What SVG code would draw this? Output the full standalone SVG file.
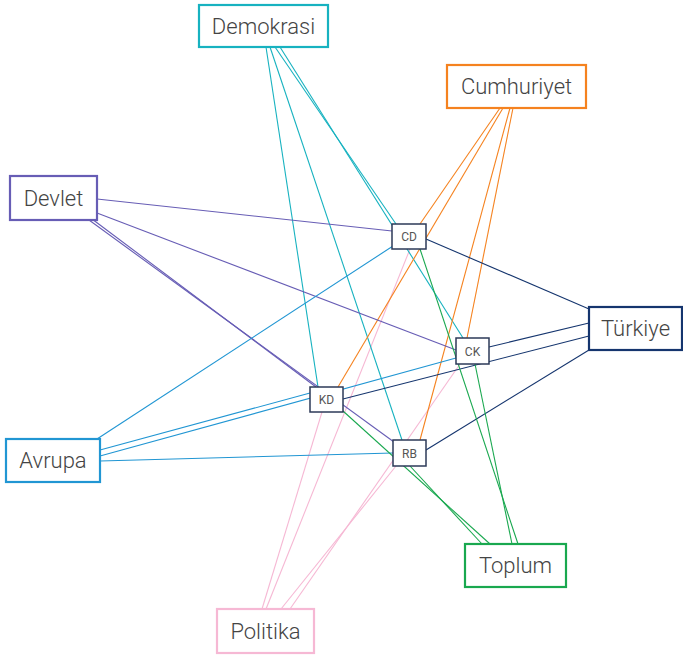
<svg xmlns="http://www.w3.org/2000/svg" width="683" height="657" viewBox="0 0 683 657">
<style>
.e{fill:none;stroke-width:1.1}
.big rect{fill:#fff;stroke-width:2.2}
.big text{font-family:Roboto,"Liberation Sans",sans-serif;font-weight:300;font-size:22px;fill:#444;text-anchor:middle;dominant-baseline:central}
.sm rect{fill:#fff;stroke:#2c3a58;stroke-width:1.5}
.sm text{font-family:Roboto,"Liberation Sans",sans-serif;font-size:12px;fill:#555;text-anchor:middle;dominant-baseline:central}
.dem{stroke:#17b2c0}.cum{stroke:#f5821f}.dev{stroke:#675db5}.tur{stroke:#15356e}.avr{stroke:#2196d3}.top{stroke:#19a84f}.pol{stroke:#f6b8d4}
</style>
<rect width="683" height="657" fill="#fff"/>
<g id="connectors">
<line class="e pol" x1="262" y1="609" x2="322" y2="412"/>
<line class="e pol" x1="266" y1="609" x2="410" y2="249"/>
<line class="e pol" x1="281" y1="609" x2="396" y2="466"/>
<line class="e pol" x1="290" y1="609" x2="460" y2="364"/>
<line class="e dem" x1="266" y1="47" x2="318" y2="387"/>
<line class="e dem" x1="270" y1="47" x2="402" y2="440"/>
<line class="e dem" x1="275" y1="47" x2="396" y2="224"/>
<line class="e dem" x1="280" y1="47" x2="463" y2="338"/>
<line class="e cum" x1="500" y1="108" x2="420" y2="224"/>
<line class="e cum" x1="503" y1="108" x2="338" y2="387"/>
<line class="e cum" x1="510" y1="108" x2="420" y2="440"/>
<line class="e cum" x1="513" y1="108" x2="467" y2="338"/>
<line class="e dev" x1="97" y1="199" x2="392" y2="231"/>
<line class="e dev" x1="97" y1="213" x2="456" y2="350"/>
<line class="e dev" x1="92" y1="219" x2="316" y2="387"/>
<line class="e dev" x1="89" y1="220" x2="394" y2="442"/>
<line class="e avr" x1="97" y1="439" x2="393" y2="246"/>
<line class="e avr" x1="100" y1="450" x2="310" y2="393"/>
<line class="e avr" x1="100" y1="456" x2="456" y2="358"/>
<line class="e avr" x1="100" y1="461" x2="393" y2="453"/>
<line class="e tur" x1="589" y1="309" x2="426" y2="239"/>
<line class="e tur" x1="589" y1="323" x2="489" y2="347"/>
<line class="e tur" x1="589" y1="336" x2="343" y2="399"/>
<line class="e tur" x1="589" y1="350" x2="426" y2="450"/>
<line class="e top" x1="518" y1="544" x2="420" y2="249"/>
<line class="e top" x1="512" y1="544" x2="475" y2="364"/>
<line class="e top" x1="490" y1="544" x2="343" y2="411"/>
<line class="e top" x1="482" y1="544" x2="410" y2="466"/>
</g>
<g id="n-demokrasi" class="big"><rect class="dem" x="199" y="5" width="129" height="42"/><text x="263.5" y="26">Demokrasi</text></g>
<g id="n-cumhuriyet" class="big"><rect class="cum" x="447" y="65" width="139" height="43"/><text x="516.5" y="86.5">Cumhuriyet</text></g>
<g id="n-devlet" class="big"><rect class="dev" x="10" y="176" width="87" height="44"/><text x="53.5" y="198">Devlet</text></g>
<g id="n-turkiye" class="big"><rect class="tur" x="589" y="307" width="93" height="43"/><text x="635.5" y="328.5">Türkiye</text></g>
<g id="n-avrupa" class="big"><rect class="avr" x="6" y="439" width="94" height="43"/><text x="53" y="460.5">Avrupa</text></g>
<g id="n-toplum" class="big"><rect class="top" x="465" y="544" width="101" height="43"/><text x="515.5" y="565.5">Toplum</text></g>
<g id="n-politika" class="big"><rect class="pol" x="217" y="609" width="97" height="44"/><text x="265.5" y="631">Politika</text></g>
<g id="n-cd" class="sm"><rect x="392" y="224" width="34" height="25"/><text x="409" y="237">CD</text></g>
<g id="n-ck" class="sm"><rect x="456" y="338" width="33" height="26"/><text x="472.5" y="351.5">CK</text></g>
<g id="n-kd" class="sm"><rect x="310" y="387" width="33" height="25"/><text x="326.5" y="400">KD</text></g>
<g id="n-rb" class="sm"><rect x="393" y="440" width="33" height="26"/><text x="409.5" y="453.5">RB</text></g>
</svg>
